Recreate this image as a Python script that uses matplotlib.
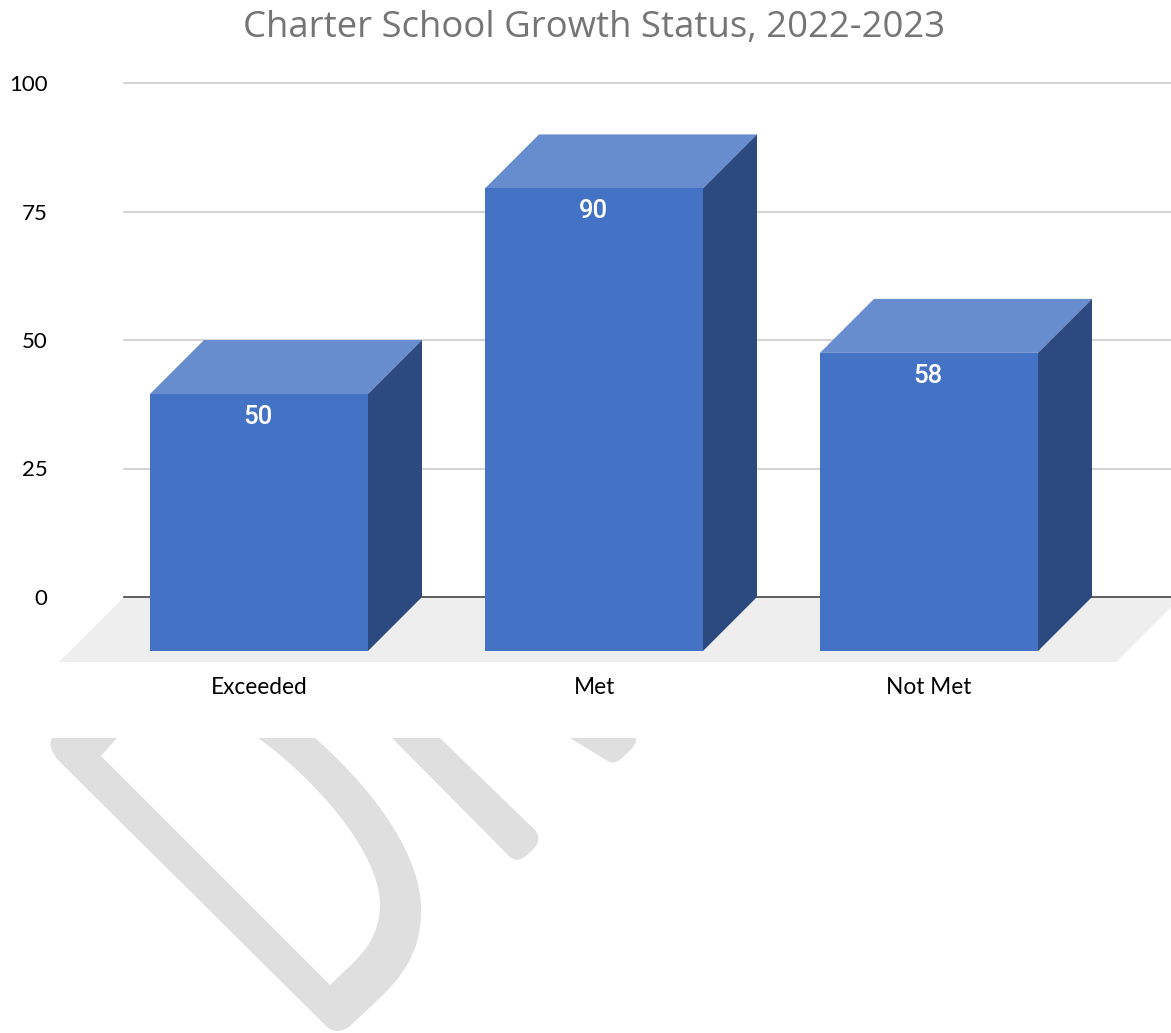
import matplotlib
matplotlib.use("Agg")
import matplotlib.pyplot as plt
from matplotlib.patches import PathPatch
from matplotlib.path import Path

W, H = 1171, 1033

categories = ["Exceeded", "Met", "Not Met"]
values = [50, 90, 58]
y_ticks = [0, 25, 50, 75, 100]

FRONT = "#4472c4"
TOP = "#688dce"
SIDE = "#2c4a80"
FLOOR = "#eeeeee"
GRID = "#cccccc"
MARK = "#dfdfdf"

# px layout of the plot area
left, right, top, bottom = 124, 1171, 83, 597
step = 335.0
y_scale = (bottom - top) / 100.0
depth_x = 54 / step
depth_y = 54 / y_scale
floor_x = 65 / step
floor_y = 65 / y_scale
bar_w = 218 / step

fig = plt.figure(figsize=(W / 100, H / 100), dpi=100)

# watermark, in pixel coords
bg = fig.add_axes([0, 0, 1, 1], zorder=0)
bg.set_xlim(0, W)
bg.set_ylim(H, 0)
bg.axis("off")

M, L, C, Z = Path.MOVETO, Path.LINETO, Path.CURVE4, Path.CLOSEPOLY
d_stroke = [
    (M, (52, 738)), (C, (49, 743)), (C, (50, 750)), (C, (58, 760)),
    (L, (326, 1026)), (C, (332, 1032)), (C, (342, 1033)), (C, (350, 1026)),
    (L, (384, 994)), (C, (412, 966)), (C, (422, 940)), (C, (421, 905)),
    (C, (419, 860)), (C, (385, 800)), (C, (315, 738)),
    (L, (258, 738)), (C, (310, 775)), (C, (380, 850)), (C, (380, 905)),
    (C, (379, 935)), (C, (366, 950)), (C, (352, 964)),
    (L, (330, 985)), (L, (101, 756)), (L, (117, 738)), (Z, (52, 738)),
]
i_stroke = [
    (M, (392, 738)), (L, (510, 857)), (C, (516, 862)), (C, (522, 860)), (C, (528, 854)),
    (C, (538, 846)), (C, (542, 838)), (C, (535, 830)),
    (L, (440, 738)), (Z, (392, 738)),
]
r_stroke = [
    (M, (570, 738)), (L, (606, 760)), (C, (612, 764)), (C, (617, 763)), (C, (623, 757)),
    (C, (632, 749)), (C, (637, 744)), (C, (636, 738)), (Z, (570, 738)),
]
for stroke in [d_stroke, i_stroke, r_stroke]:
    codes = [s[0] for s in stroke]
    verts = [s[1] for s in stroke]
    bg.add_patch(PathPatch(Path(verts, codes), facecolor=MARK, edgecolor="none"))

ax = fig.add_axes([left / W, 1 - bottom / H, (right - left) / W, (bottom - top) / H], zorder=1)
ax.patch.set_alpha(0)
x0 = (313 - left) / step
ax.set_xlim(-x0, -x0 + (right - left) / step)
ax.set_ylim(0, 100)

for s in ax.spines.values():
    s.set_visible(False)

for v in y_ticks[1:]:
    ax.axhline(v, color=GRID, lw=1.2, zorder=1, clip_on=False)

# floor
x_a, x_b = ax.get_xlim()
ax.fill([x_a, x_b + 0.03, x_b + 0.03 - floor_x, x_a - floor_x], [0, 0, -floor_y, -floor_y],
        color=FLOOR, lw=0, zorder=2, clip_on=False)
ax.plot([x_a, x_b], [0, 0], color="#444444", lw=1.2, zorder=3, clip_on=False)

xs = list(range(len(categories)))
front_x = [x - depth_x for x in xs]

ax.bar(front_x, values, width=bar_w, bottom=-depth_y, color=FRONT, zorder=5, clip_on=False)
for x, v in zip(xs, values):
    l, r = x - bar_w / 2, x + bar_w / 2
    # top face
    ax.fill([l - depth_x, r - depth_x, r, l], [v - depth_y, v - depth_y, v, v],
            color=TOP, lw=0, zorder=4, clip_on=False)
    # side face
    ax.fill([r - depth_x, r, r, r - depth_x], [v - depth_y, v, 0, -depth_y],
            color=SIDE, lw=0, zorder=4, clip_on=False)
    ax.annotate(str(v), (x - depth_x, v - depth_y), xytext=(-0.7, -16.5), textcoords="offset points",
                ha="center", va="center", color="white", fontsize=18.5, family="Roboto",
                weight="medium", zorder=6)

ax.set_yticks(y_ticks)
ax.set_yticklabels([str(v) for v in y_ticks], fontsize=16, family="Lato", color="black")
ax.tick_params(axis="y", length=0, pad=55)
ax.set_xticks(front_x)
ax.set_xticklabels(categories, fontsize=16.3, family="Lato", color="black")
ax.tick_params(axis="x", length=0, pad=57.5)

fig.text(594.5 / W, 1 - 27.5 / H, "Charter School Growth Status, 2022-2023", ha="center", va="center",
         fontsize=26.3, family="Open Sans", color="#757575")

fig.savefig("out.png", dpi=100)
